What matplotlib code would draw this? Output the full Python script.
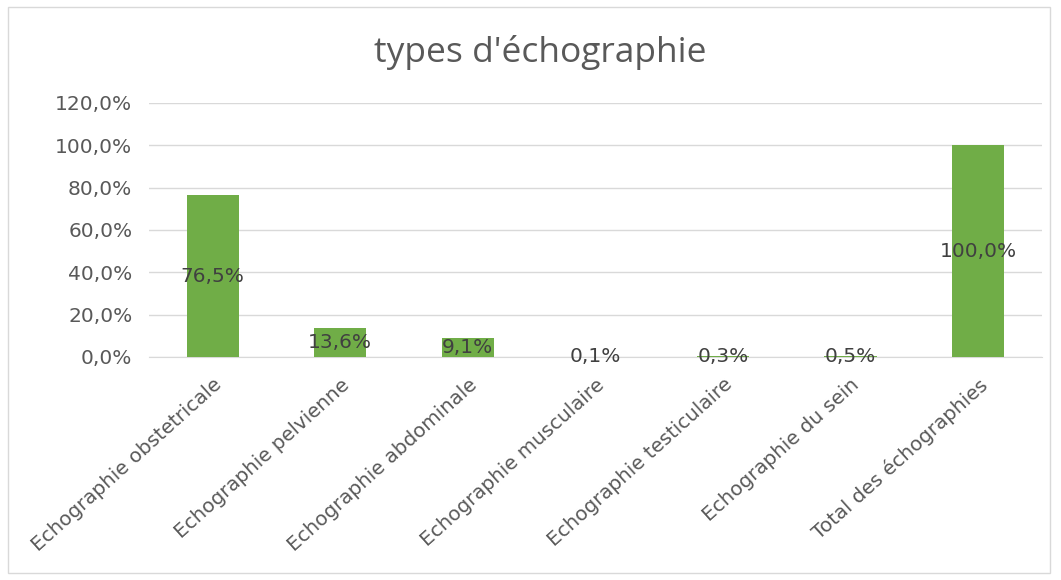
import matplotlib.pyplot as plt
from matplotlib.patches import Rectangle
from matplotlib.ticker import FuncFormatter

plt.rcParams['font.family'] = ['DejaVu Sans']

categories = ["Echographie obstetricale", "Echographie pelvienne",
              "Echographie abdominale", "Echographie musculaire",
              "Echographie testiculaire", "Echographie du sein",
              "Total des échographies"]
values = [76.5, 13.6, 9.1, 0.1, 0.3, 0.5, 100.0]
labels = ["76,5%", "13,6%", "9,1%", "0,1%", "0,3%", "0,5%", "100,0%"]

fig = plt.figure(figsize=(10.61, 5.8), dpi=100)
ax = fig.add_axes([0.1404, 0.3845, 0.8416, 0.438])

# chart border like Excel
fig.patches.append(Rectangle((0.008, 0.012), 0.982, 0.976, transform=fig.transFigure,
                             fill=False, edgecolor="#d9d9d9", lw=1))

x = range(len(categories))
ax.bar(x, values, width=0.41, color="#70AD47", zorder=3)
for i, v in enumerate(values):
    ax.text(i, v / 2, labels[i], ha="center", va="center", fontsize=14.5,
            color="#404040", zorder=4)

ax.set_xlim(-0.5, len(categories) - 0.5)
ax.set_ylim(0, 120)
ax.set_yticks([0, 20, 40, 60, 80, 100, 120])
ax.yaxis.set_major_formatter(FuncFormatter(lambda v, p: ("%.1f%%" % v).replace(".", ",")))
ax.grid(axis="y", color="#d9d9d9", lw=1, zorder=0)
for s in ax.spines.values():
    s.set_visible(False)
ax.spines["bottom"].set_visible(True)
ax.spines["bottom"].set_color("#d9d9d9")
ax.tick_params(axis="both", length=0, labelsize=14.5, labelcolor="#595959")
ax.tick_params(axis="y", pad=12)
ax.tick_params(axis="x", pad=13)
ax.set_xticks(list(x))
ax.set_xticklabels(categories, rotation=42, ha="right", va="top",
                   rotation_mode="anchor", fontsize=14.3)

fig.text(0.509, 0.91, "types d'échographie", ha="center", va="center",
         fontsize=25.5, color="#595959", family=["Open Sans", "DejaVu Sans"])

fig.savefig("out.png", dpi=100)
